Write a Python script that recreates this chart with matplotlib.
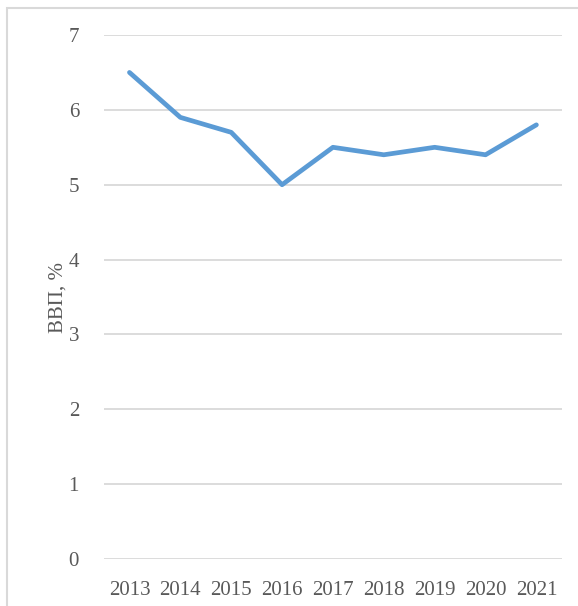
import matplotlib
matplotlib.use("Agg")
import matplotlib.pyplot as plt
from matplotlib.patches import Rectangle

years = ["2013", "2014", "2015", "2016", "2017", "2018", "2019", "2020", "2021"]
gdp_share = [6.5, 5.9, 5.7, 5.0, 5.5, 5.4, 5.5, 5.4, 5.8]
y_ticks = [0, 1, 2, 3, 4, 5, 6, 7]

plt.rcParams["font.family"] = ["Liberation Serif", "DejaVu Serif"]
text_color = "#595959"

fig = plt.figure(figsize=(5.78, 6.06), dpi=100)
ax = fig.add_axes([0.18, 0.0776, 0.792, 0.8646])

x = list(range(len(years)))
ax.plot(x, gdp_share, color="#5B9BD5", linewidth=3.4,
        solid_capstyle="round", solid_joinstyle="round", zorder=3)

ax.set_xlim(-0.5, len(years) - 0.5)
ax.set_ylim(0, 7)
ax.set_yticks(y_ticks)
ax.set_xticks(x)
ax.set_xticklabels(years)
ax.grid(axis="y", color="#d9d9d9", linewidth=1.3)
ax.set_axisbelow(True)
for s in ax.spines.values():
    s.set_visible(False)
ax.tick_params(axis="both", length=0, labelsize=15, labelcolor=text_color)
ax.tick_params(axis="y", pad=18)
ax.tick_params(axis="x", pad=16)
ax.set_ylabel("ВВП, %", fontsize=15, color=text_color, labelpad=1)

# chart border
fig.patches.append(Rectangle((7 / 578, -0.05), 1.2, 1 - 8 / 606 + 0.05,
                             transform=fig.transFigure, fill=False,
                             edgecolor="#d9d9d9", linewidth=1.5))

fig.savefig("out.png", dpi=100)
